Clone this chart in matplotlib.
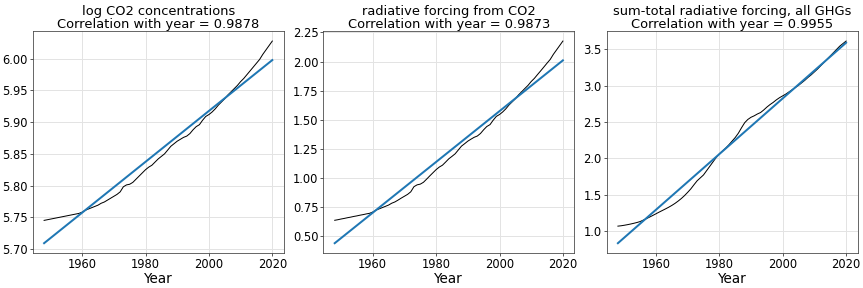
import numpy as np
import matplotlib
matplotlib.use("Agg")
import matplotlib.pyplot as plt

# data
years = list(range(1948, 2021))

log_co2 = [5.745, 5.746, 5.747, 5.748, 5.749, 5.750, 5.751, 5.752, 5.753, 5.754,
           5.755, 5.756, 5.758, 5.761, 5.763, 5.765, 5.767, 5.769, 5.772, 5.774,
           5.777, 5.780, 5.783, 5.786, 5.790, 5.798, 5.801, 5.802, 5.805, 5.810,
           5.815, 5.820, 5.825, 5.829, 5.832, 5.837, 5.842, 5.846, 5.850, 5.856,
           5.862, 5.866, 5.870, 5.873, 5.876, 5.878, 5.882, 5.888, 5.893, 5.896,
           5.903, 5.909, 5.912, 5.916, 5.921, 5.927, 5.932, 5.937, 5.943, 5.948,
           5.953, 5.958, 5.964, 5.969, 5.975, 5.981, 5.987, 5.993, 5.999, 6.007,
           6.014, 6.021, 6.028]

rf_co2 = [0.634, 0.639, 0.645, 0.650, 0.656, 0.661, 0.667, 0.672, 0.678, 0.683,
          0.689, 0.694, 0.705, 0.721, 0.732, 0.743, 0.754, 0.765, 0.781, 0.792,
          0.808, 0.825, 0.841, 0.857, 0.879, 0.923, 0.939, 0.945, 0.961, 0.988,
          1.016, 1.043, 1.070, 1.092, 1.108, 1.135, 1.163, 1.184, 1.206, 1.239,
          1.272, 1.293, 1.315, 1.332, 1.348, 1.359, 1.381, 1.413, 1.441, 1.457,
          1.495, 1.528, 1.544, 1.566, 1.593, 1.626, 1.653, 1.680, 1.713, 1.740,
          1.768, 1.795, 1.828, 1.855, 1.888, 1.920, 1.953, 1.986, 2.018, 2.062,
          2.100, 2.138, 2.176]

rf_total = [1.065, 1.070, 1.077, 1.085, 1.094, 1.104, 1.115, 1.128, 1.148, 1.168,
            1.190, 1.212, 1.235, 1.258, 1.280, 1.302, 1.325, 1.350, 1.378, 1.410,
            1.445, 1.485, 1.530, 1.578, 1.635, 1.690, 1.730, 1.770, 1.830, 1.890,
            1.950, 2.010, 2.060, 2.100, 2.140, 2.185, 2.235, 2.285, 2.345, 2.420,
            2.490, 2.535, 2.565, 2.585, 2.610, 2.630, 2.665, 2.705, 2.740, 2.770,
            2.805, 2.835, 2.860, 2.885, 2.915, 2.945, 2.975, 3.005, 3.040, 3.075,
            3.115, 3.150, 3.190, 3.230, 3.275, 3.320, 3.365, 3.410, 3.455, 3.500,
            3.545, 3.580, 3.615]

# linear trend end points (1948, 2020)
fit_years = [1948, 2020]
fit_log_co2 = [5.709, 5.998]
fit_rf_co2 = [0.437, 2.010]
fit_rf_total = [0.830, 3.592]

titles = ["log CO2 concentrations\nCorrelation with year = 0.9878",
          "radiative forcing from CO2\nCorrelation with year = 0.9873",
          "sum-total radiative forcing, all GHGs\nCorrelation with year = 0.9955"]

series = [log_co2, rf_co2, rf_total]
fits = [fit_log_co2, fit_rf_co2, fit_rf_total]
yticks = [[5.70, 5.75, 5.80, 5.85, 5.90, 5.95, 6.00],
          [0.50, 0.75, 1.00, 1.25, 1.50, 1.75, 2.00, 2.25],
          [1.0, 1.5, 2.0, 2.5, 3.0, 3.5]]
yfmt = ["%.2f", "%.2f", "%.1f"]

fig = plt.figure(figsize=(863/72, 288/72), dpi=72)
lefts = [32.7/863, 323.3/863, 606.5/863]
for i in range(3):
    ax = fig.add_axes([lefts[i], 0.1205, 251/863, 0.772])
    ax.plot(years, series[i], color="black", lw=1)
    ax.plot(fit_years, fits[i], color="#1f77b4", lw=2)
    ax.set_title(titles[i], fontsize=13, linespacing=1.0, pad=3)
    ax.set_xlabel("Year", fontsize=13.5, labelpad=1)
    ax.set_xticks([1960, 1980, 2000, 2020])
    ax.set_yticks(yticks[i])
    ax.set_yticklabels([yfmt[i] % v for v in yticks[i]])
    ax.tick_params(labelsize=11.5, color="#333333", length=2.8, pad=2)
    ax.grid(True, color="#e3e3e3", lw=1)
    ax.set_axisbelow(True)
    for s in ax.spines.values():
        s.set_color("#444444")

fig.savefig("out.png", dpi=72)
